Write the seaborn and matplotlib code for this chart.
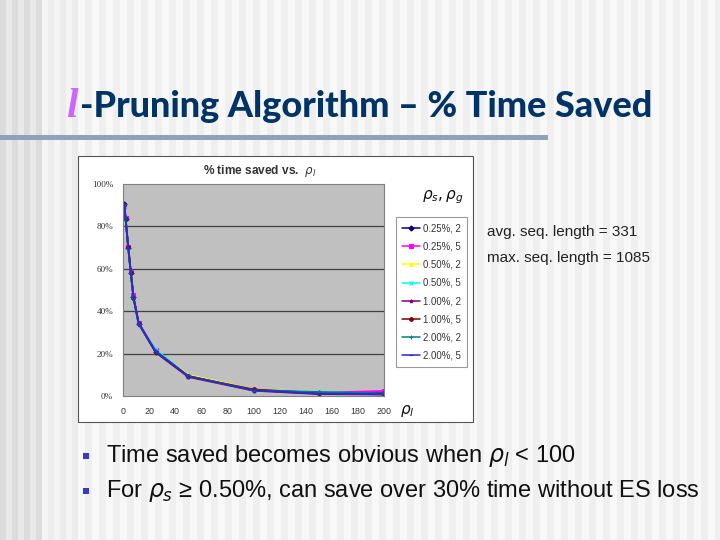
import matplotlib
matplotlib.use("Agg")
import matplotlib.pyplot as plt
from matplotlib.patches import Rectangle
from matplotlib.lines import Line2D
import seaborn as sns
import pandas as pd

# ---- data ----
rho_l = [1, 2, 4, 6, 8, 12, 25, 50, 100, 150, 200]
series_labels = ["0.25%, 2", "0.25%, 5", "0.50%, 2", "0.50%, 5",
                 "1.00%, 2", "1.00%, 5", "2.00%, 2", "2.00%, 5"]
s_025_2 = [90.5, 83.5, 70.0, 58.0, 46.5, 34.0, 20.8, 9.4, 2.8, 1.2, 0.8]
s_025_5 = [89.5, 84.0, 70.3, 58.6, 47.5, 34.5, 21.5, 9.6, 3.0, 1.5, 2.4]
s_050_2 = [90.0, 83.0, 69.5, 57.5, 46.0, 33.8, 21.2, 10.0, 3.2, 1.6, 1.2]
s_050_5 = [89.8, 83.2, 69.8, 57.0, 45.8, 33.5, 22.0, 9.2, 2.9, 1.8, 1.0]
s_100_2 = [90.2, 83.6, 70.2, 58.3, 46.8, 34.3, 20.6, 9.0, 2.5, 0.9, 0.7]
s_100_5 = [90.1, 83.4, 70.1, 58.2, 46.4, 34.1, 20.9, 9.3, 3.1, 1.4, 1.5]
s_200_2 = [89.9, 83.3, 69.9, 57.8, 46.2, 34.0, 21.3, 9.5, 2.6, 1.9, 1.3]
s_200_5 = [90.4, 83.7, 70.0, 58.1, 46.6, 34.2, 21.0, 9.4, 2.7, 1.1, 0.9]
all_series = [s_025_2, s_025_5, s_050_2, s_050_5, s_100_2, s_100_5, s_200_2, s_200_5]
x_ticks = [0, 20, 40, 60, 80, 100, 120, 140, 160, 180, 200]
y_ticks = [0, 20, 40, 60, 80, 100]

colors = ["#000080", "#ff00ff", "#ffff00", "#00ffff",
          "#800080", "#800000", "#008080", "#2a2ad0"]
markers = ["D", "s", "^", "x", "*", "o", "+", "_"]

sns.set_theme(style="white")
plt.rcParams["font.family"] = ["Liberation Sans", "DejaVu Sans"]
plt.rcParams["mathtext.fontset"] = "dejavusans"

W, H = 720, 540
fig = plt.figure(figsize=(7.2, 5.4), dpi=100)

def fx(px):
    return px / W

def fy(py):
    return 1 - py / H

# ---- slide background with vertical stripes ----
fig.patches.append(Rectangle((0, 0), 1, 1, transform=fig.transFigure,
                             facecolor="#f3f3f3", edgecolor="none", zorder=-10))
x = 0
i = 0
while x < W:
    if x < 40:
        c = "#dcdcdc" if i % 2 == 0 else "#e9e9e9"
        w = 6
    elif x < 75:
        c = "#ececec" if i % 2 == 0 else "#f4f4f4"
        w = 6
    else:
        c = "#efefef" if i % 2 == 0 else "#f8f8f8"
        w = 7
    fig.patches.append(Rectangle((fx(x), 0), fx(w), 1, transform=fig.transFigure,
                                 facecolor=c, edgecolor="none", zorder=-9))
    x += w
    i += 1

# title underline bar
fig.patches.append(Rectangle((0, fy(140)), fx(548), 5 / H, transform=fig.transFigure,
                             facecolor="#8fa2ba", edgecolor="none", zorder=-5))

# ---- title ----
tfam = ["Lato", "Liberation Sans", "DejaVu Sans"]
t1 = fig.text(fx(66), fy(117), "l", fontsize=30, style="italic", fontweight="bold",
              color="#cc66ff", family="Liberation Serif", va="baseline")
fig.canvas.draw()
bb = t1.get_window_extent()
t2 = fig.text(bb.x1 / W + 0.003, fy(117), "-Pruning Algorithm – % Time Saved",
              fontsize=24, fontweight="black", color="#003366", family=tfam,
              stretch="condensed", va="baseline")
fig.canvas.draw()
bb2 = t2.get_window_extent()
target = 650 - bb.x1
t2.set_fontsize(24 * target / bb2.width)

# ---- chart image box ----
fig.patches.append(Rectangle((fx(78), fy(422)), fx(473 - 78), (422 - 156) / H,
                             transform=fig.transFigure, facecolor="white",
                             edgecolor="#555555", linewidth=0.8, zorder=-2))

ax = fig.add_axes([fx(123), fy(396), fx(384 - 123), (396 - 184) / H])
ax.set_facecolor("#c0c0c0")

for lab, vals, c, m in zip(series_labels, all_series, colors, markers):
    d = pd.DataFrame({"rho_l": rho_l, "saved": vals})
    sns.lineplot(data=d, x="rho_l", y="saved", color=c, marker=m,
                 linewidth=1.3, markersize=2.6, markeredgewidth=0.8,
                 markeredgecolor=c, ax=ax, legend=False)

ax.set_xlim(0, 200)
ax.set_ylim(0, 100)
ax.set_xticks(x_ticks)
ax.set_yticks(y_ticks)
ax.set_xticklabels([str(v) for v in x_ticks], fontsize=6.4, color="#333333")
ax.set_yticklabels([f"{v}%" for v in y_ticks], fontsize=6.6, color="#333333",
                   family=["Liberation Serif", "DejaVu Serif"])
ax.tick_params(axis="x", direction="in", length=3, color="#555555", pad=8)
ax.tick_params(axis="y", length=0, pad=7)
for yv in y_ticks[1:-1]:
    ax.axhline(yv, color="#404040", linewidth=0.9, zorder=0.5)
for s in ax.spines.values():
    s.set_color("#808080")
    s.set_linewidth(0.8)
ax.set_xlabel("")
ax.set_ylabel("")

# chart title
fig.text(fx(260), fy(171), r"% time saved vs.  $\rho_l$", fontsize=8.6,
         fontweight="bold", color="#333333", ha="center", va="center")

# legend
handles = [Line2D([0], [0], color=c, marker=m, markersize=2.6, linewidth=1.1,
                  markeredgewidth=0.8) for c, m in zip(colors, markers)]
leg = fig.legend(handles, series_labels, loc="upper left",
                 bbox_to_anchor=(fx(391), fy(212)), bbox_transform=fig.transFigure,
                 fontsize=6.9, frameon=True, fancybox=False, edgecolor="#808080",
                 handlelength=1.8, handletextpad=0.3, labelspacing=0.85,
                 borderpad=0.7, labelcolor="#333333")
leg.get_frame().set_linewidth(0.8)

fig.text(fx(443), fy(197), r"$\rho_s, \rho_g$", fontsize=11, ha="center",
         va="center", color="#111111")
fig.text(fx(407), fy(411), r"$\rho_l$", fontsize=11, ha="center", va="center",
         color="#111111")

# annotations
fig.text(fx(487), fy(232), "avg. seq. length = 331", fontsize=11, color="#222222",
         va="center")
fig.text(fx(487), fy(258), "max. seq. length = 1085", fontsize=11, color="#222222",
         va="center")

# bullets
for yb, txt in [(456, r"Time saved becomes obvious when $\rho_l$ < 100"),
                (491, r"For $\rho_s$ ≥ 0.50%, can save over 30% time without ES loss")]:
    fig.patches.append(Rectangle((fx(83), fy(yb + 3)), fx(6), 6 / H,
                                 transform=fig.transFigure, facecolor="#3a3ac0",
                                 edgecolor="none"))
    fig.text(fx(106), fy(yb), txt, fontsize=17.0, color="#111111", va="center")

fig.savefig("out.png", dpi=100)
